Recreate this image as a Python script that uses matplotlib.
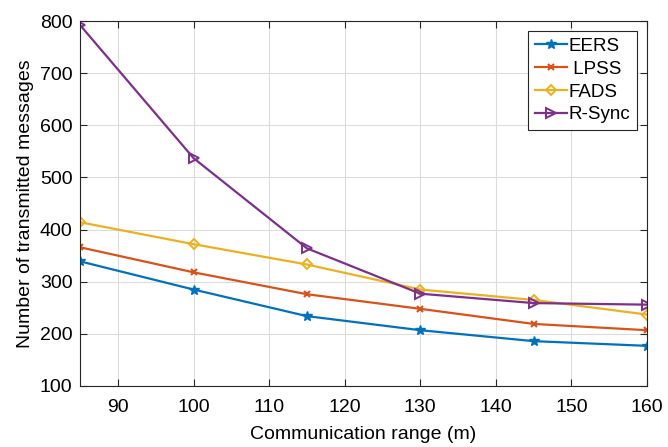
import matplotlib
matplotlib.use("Agg")
import matplotlib.pyplot as plt

plt.rcParams['font.family'] = ['Liberation Sans', 'DejaVu Sans']

x = [85, 100, 115, 130, 145, 160]
eers = [339, 285, 234, 207, 186, 177]
lpss = [366, 318, 276, 248, 219, 207]
fads = [414, 372, 333, 285, 265, 237]
rsync = [792, 537, 364, 277, 259, 256]

xticks = [90, 100, 110, 120, 130, 140, 150, 160]
yticks = [100, 200, 300, 400, 500, 600, 700, 800]

fig = plt.figure(figsize=(6.68, 4.47), dpi=100)
ax = fig.add_axes([0.12, 0.1365, 0.8486, 0.8165])

ax.plot(x, eers, color='#0072BD', lw=1.6, marker='*', ms=7, label='EERS')
ax.plot(x, lpss, color='#D95319', lw=1.6, marker='x', ms=4, mew=1.5, label=' LPSS')
ax.plot(x, fads, color='#EDB120', lw=1.6, marker='D', ms=5, mfc='none', mew=1.4, label='FADS')
ax.plot(x, rsync, color='#7E2F8E', lw=1.6, marker='>', ms=7, mfc='none', mew=1.4, label='R-Sync')

ax.set_xlim(85, 160)
ax.set_ylim(100, 800)
ax.set_xticks(xticks)
ax.set_yticks(yticks)
ax.tick_params(direction='in', top=True, right=True, labelsize=14, length=5, color='#262626')
ax.tick_params(axis='x', pad=9.5)
ax.tick_params(axis='y', pad=5.5)
ax.grid(True, color='#dcdcdc', lw=0.8)
for s in ax.spines.values():
    s.set_color('#262626')
    s.set_linewidth(0.8)
ax.set_xlabel('Communication range (m)', fontsize=14, labelpad=7)
ax.set_ylabel('Number of transmitted messages', fontsize=14, labelpad=4)

leg = ax.legend(loc='upper right', fontsize=13.5, fancybox=False, edgecolor='#262626',
                framealpha=1, handlelength=1.7, borderaxespad=0.55, handletextpad=0.1,
                labelspacing=0.3, borderpad=0.35)
leg.get_frame().set_linewidth(0.8)

fig.savefig('out.png', dpi=100)
